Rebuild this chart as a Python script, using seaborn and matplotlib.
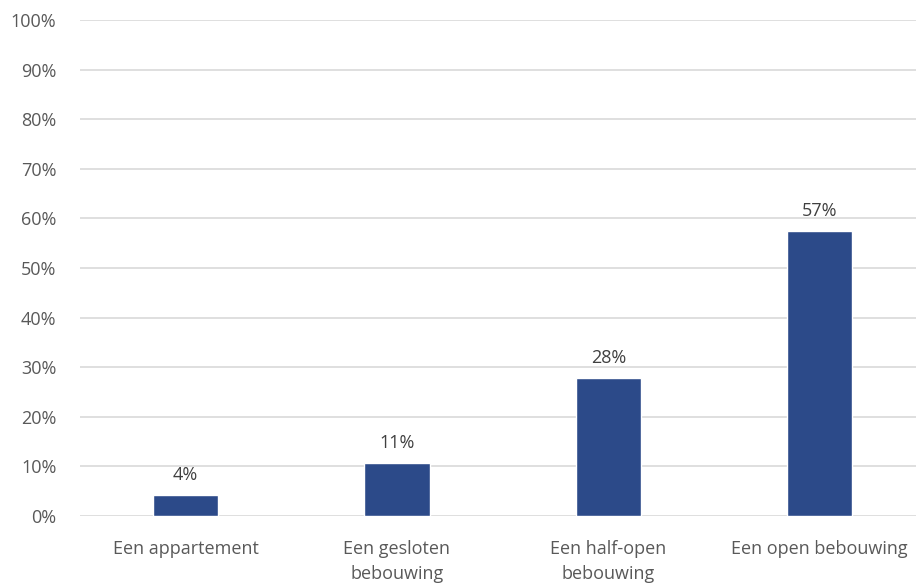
import matplotlib
matplotlib.use("Agg")
import matplotlib.pyplot as plt
import seaborn as sns
import pandas as pd
from matplotlib.ticker import PercentFormatter

categories = ["Een appartement", "Een gesloten\nbebouwing", "Een half-open\nbebouwing", "Een open bebouwing"]
values = [4.2, 10.6, 27.9, 57.5]
labels = ["4%", "11%", "28%", "57%"]

sns.set_theme(style="white")
plt.rcParams["font.family"] = ["Open Sans", "DejaVu Sans"]

df = pd.DataFrame({"cat": categories, "val": values})
fig = plt.figure(figsize=(9.16, 5.83), dpi=100)
ax = fig.add_axes([80/916, 67/583, 836/916, 496/583])
sns.barplot(data=df, x="cat", y="val", color="#2C4A89", width=0.31, ax=ax, zorder=3, saturation=1)

ax.set_ylim(0, 100)
ax.set_xlim(-0.5, 3.456)
ax.set_yticks(range(0, 101, 10))
ax.yaxis.set_major_formatter(PercentFormatter(decimals=0))
ax.grid(axis="y", color="#D9D9D9", linewidth=1.2, zorder=0)
for s in ax.spines.values():
    s.set_visible(False)
ax.tick_params(axis="both", length=0, labelcolor="#595959", labelsize=13)
ax.tick_params(axis="y", pad=17)
ax.tick_params(axis="x", pad=17)
ax.set_xlabel("")
ax.set_ylabel("")
for lab in ax.get_xticklabels():
    lab.set_linespacing(1.55)

for i, (v, t) in enumerate(zip(values, labels)):
    ax.annotate(t, (i, v), xytext=(0, 8), textcoords="offset points",
                ha="center", va="bottom", color="#404040", fontsize=13)

fig.savefig("out.png", dpi=100)
